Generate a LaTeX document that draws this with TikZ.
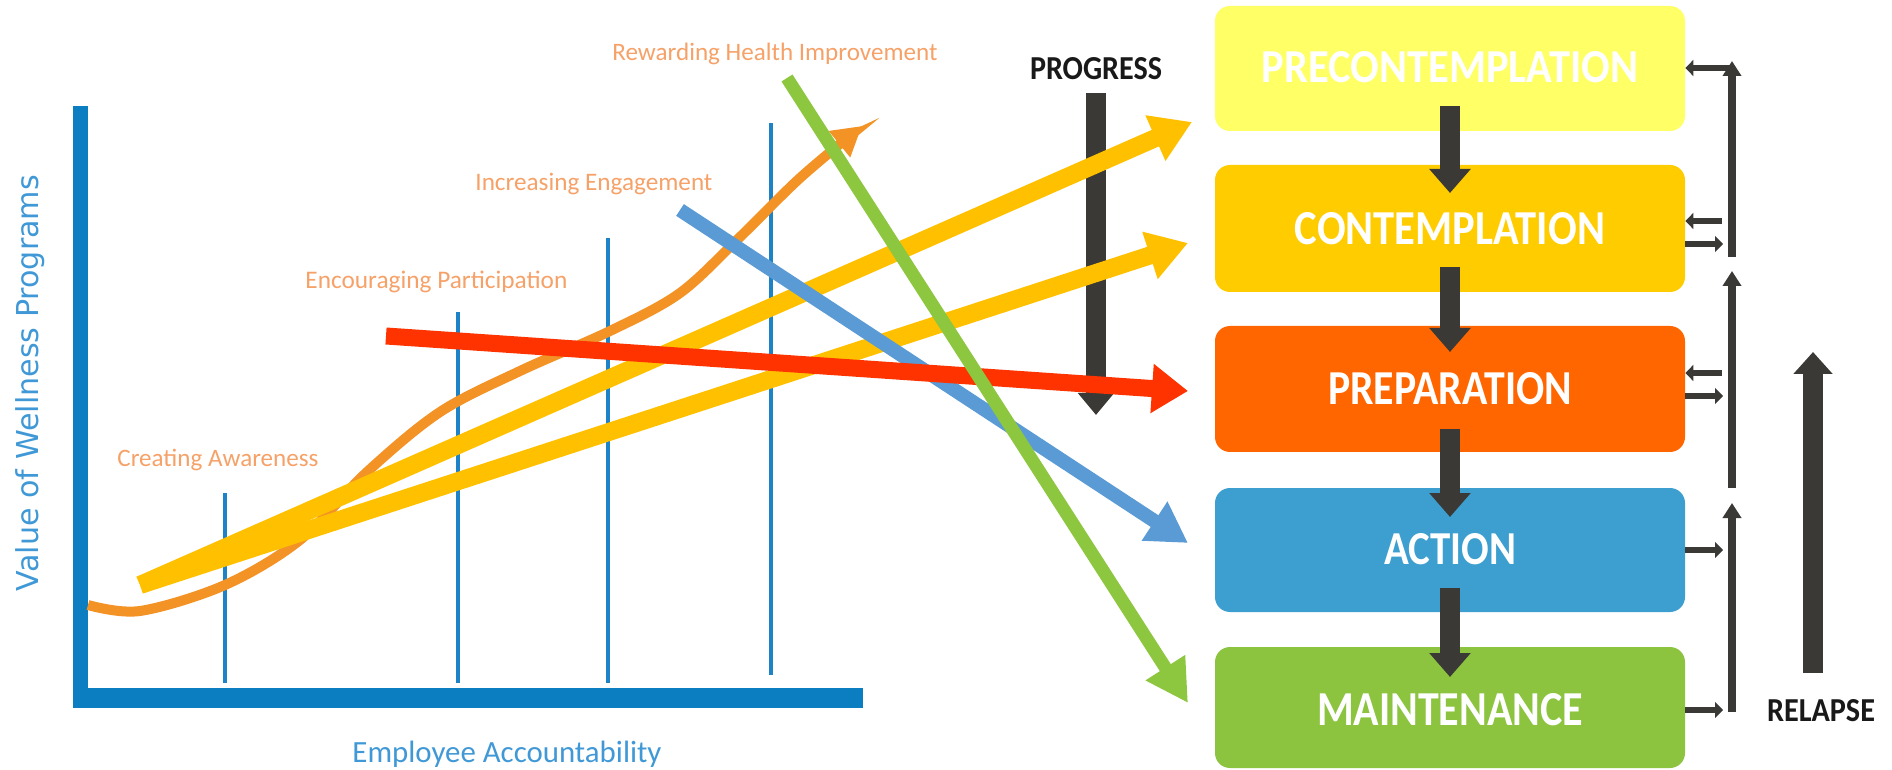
\documentclass[tikz,border=0pt]{standalone}
\usepackage{fontspec}
\setmainfont{Carlito}
\newfontfamily\dejavu{DejaVu Sans}
\usetikzlibrary{arrows.meta}
\definecolor{axisblue}{HTML}{0B7EC1}
\definecolor{tickblue}{HTML}{1D83C6}
\definecolor{lblorange}{HTML}{F6A168}
\definecolor{axlbl}{HTML}{4099D6}
\definecolor{curveorange}{HTML}{F39325}
\definecolor{lineyellow}{HTML}{FFC000}
\definecolor{linered}{HTML}{FF3300}
\definecolor{lineblue}{HTML}{5B9BD5}
\definecolor{linegreen}{HTML}{8DC63F}
\definecolor{darkgrey}{HTML}{3B3936}
\definecolor{cpre}{HTML}{FFFF66}
\definecolor{ccon}{HTML}{FFCC00}
\definecolor{cprep}{HTML}{FF6600}
\definecolor{cact}{HTML}{3C9FD0}
\definecolor{cmain}{HTML}{8CC43F}
\begin{document}
\begin{tikzpicture}[x=0.5pt,y=-0.5pt,
  stagebox/.style={rounded corners=7.5pt, minimum width=235pt, inner sep=0pt, text=white, font=\bfseries},
  lbl/.style={inner sep=0pt, text=lblorange, anchor=west},
  darrow/.style={darkgrey, line width=10pt, -{Triangle[length=12pt,width=20pt]}},
  bigarrow/.style={darkgrey, line width=10pt, -{Triangle[length=11pt,width=18.5pt]}},
  thinv/.style={darkgrey, line width=4pt, -{Triangle[length=7.5pt,width=9pt]}},
  thinh/.style={darkgrey, line width=3pt, -{Triangle[length=4pt,width=8pt]}},
  tick/.style={tickblue, line width=2pt},
  bandtxt/.style={inner sep=0pt, text=black!90, font=\bfseries}
]
\useasboundingbox (0,0) rectangle (1892,770);

% stage boxes
\node[stagebox, fill=cpre,  minimum height=62.5pt] (pre)  at (1450,68.5) {};
\node[stagebox, fill=ccon,  minimum height=63.5pt] (con)  at (1450,228.5) {};
\node[stagebox, fill=cprep, minimum height=63pt]   (prep) at (1450,389) {};
\node[stagebox, fill=cact,  minimum height=62pt]   (act)  at (1450,550) {};
\node[stagebox, fill=cmain, minimum height=60.5pt] (main) at (1450,707.5) {};

\node[inner sep=0pt, text=white] (tpre)  at (1450,67)  {\resizebox{188pt}{15.5pt}{\bfseries PRECONTEMPLATION}};
\node[inner sep=0pt, text=white] (tcon)  at (1450,229) {\resizebox{155pt}{16pt}{\bfseries CONTEMPLATION}};
\node[inner sep=0pt, text=white] (tprep) at (1450,389) {\resizebox{122pt}{16pt}{\bfseries PREPARATION}};
\node[inner sep=0pt, text=white] (tact)  at (1450,549) {\resizebox{66pt}{15.5pt}{\bfseries ACTION}};
\node[inner sep=0pt, text=white] (tmain) at (1450,710) {\resizebox{133pt}{16pt}{\bfseries MAINTENANCE}};

% chart axes
\fill[axisblue] (73,106) rectangle (88,708);
\fill[axisblue] (73,688) rectangle (863,708);
\coordinate (t1a) at (225,493); \coordinate (t1b) at (225,683);
\coordinate (t2a) at (458,312); \coordinate (t2b) at (458,683);
\coordinate (t3a) at (608,238); \coordinate (t3b) at (608,683);
\coordinate (t4a) at (771,123); \coordinate (t4b) at (771,675);
\draw[tick] (t1a) -- (t1b);
\draw[tick] (t2a) -- (t2b);
\draw[tick] (t3a) -- (t3b);
\draw[tick] (t4a) -- (t4b);

% orange curve
\draw[curveorange, line width=5pt, -{Triangle[length=14.5pt,width=16pt]}]
  plot[smooth, tension=0.55] coordinates {(88,605) (140,611) (225,585) (300,540) (367,472) (440,412) (520,371) (610,331) (680,293) (740,237) (800,178) (862,126)};

% progress arrow
\coordinate (pgtop) at (1096,93);
\coordinate (pgbot) at (1096,415);
\draw[bigarrow, -{Triangle[length=11pt,width=17.5pt]}] (pgtop) -- (pgbot);

% coloured stage arrows
\coordinate (ystart) at (140,585);
\coordinate (y1end) at (1192,122);
\coordinate (y2end) at (1188,243);
\draw[lineyellow, line width=9pt, -{Triangle[length=20pt,width=23.5pt]}] (ystart) -- (y1end);
\draw[lineyellow, line width=9pt, -{Triangle[length=20pt,width=23.5pt]}] (ystart) -- (y2end);
\coordinate (bstart) at (680,210);
\coordinate (bend) at (1188,543);
\draw[lineblue, line width=7pt, -{Triangle[length=20pt,width=22pt]}] (bstart) -- (bend);
\coordinate (rstart) at (386,336);
\coordinate (rend) at (1188,391);
\draw[linered, line width=8.5pt, -{Triangle[length=18pt,width=23.5pt]}] (rstart) -- (rend);
\coordinate (gstart) at (787,78);
\coordinate (gend) at (1188,703);
\draw[linegreen, line width=6.5pt, -{Triangle[length=21pt,width=22pt]}] (gstart) -- (gend);

% down arrows between stages
\coordinate (d1a) at (1450,106); \coordinate (d1b) at (1450,193);
\coordinate (d2a) at (1450,267); \coordinate (d2b) at (1450,352);
\coordinate (d3a) at (1450,429); \coordinate (d3b) at (1450,517);
\coordinate (d4a) at (1450,588); \coordinate (d4b) at (1450,677);
\draw[darrow] (d1a) -- (d1b);
\draw[darrow] (d2a) -- (d2b);
\draw[darrow] (d3a) -- (d3b);
\draw[darrow] (d4a) -- (d4b);

% relapse structure
\coordinate (v1b) at (1732,257); \coordinate (v1t) at (1732,61);
\coordinate (v2b) at (1732,488); \coordinate (v2t) at (1732,271);
\coordinate (v3b) at (1732,712); \coordinate (v3t) at (1732,503);
\draw[thinv] (v1b) -- (v1t);
\draw[thinv] (v2b) -- (v2t);
\draw[thinv] (v3b) -- (v3t);
\coordinate (h1) at (1732,68);
\draw[thinh] (h1) -- (pre.east |- h1);
\coordinate (h2) at (1722,221);
\draw[thinh] (h2) -- (con.east |- h2);
\coordinate (h3) at (1723,244);
\draw[thinh] (con.east |- h3) -- (h3);
\coordinate (h4) at (1722,373);
\draw[thinh] (h4) -- (prep.east |- h4);
\coordinate (h5) at (1723,396);
\draw[thinh] (prep.east |- h5) -- (h5);
\coordinate (h6) at (1723,550);
\draw[thinh] (act.east |- h6) -- (h6);
\coordinate (h7) at (1723,710);
\draw[thinh] (main.east |- h7) -- (h7);
\coordinate (rlb) at (1813,673);
\coordinate (rlt) at (1813,352);
\draw[bigarrow, -{Triangle[length=11pt,width=19pt]}] (rlb) -- (rlt);

% texts
\node[bandtxt] (progress) at (1096,69) {\resizebox{66pt}{11pt}{\bfseries PROGRESS}};
\node[bandtxt] (relapse) at (1821,711) {\resizebox{54pt}{11pt}{\bfseries RELAPSE}};

\node[lbl] (lca) at (117,460) {\resizebox{100.5pt}{!}{Creating Awareness}};
\node[lbl] (lep) at (305,282) {\resizebox{131pt}{!}{Encouraging Participation}};
\node[lbl] (lie) at (475,184) {\resizebox{118.5pt}{!}{Increasing Engagement}};
\node[lbl] (lrh) at (612,54) {\resizebox{162.5pt}{!}{Rewarding Health Improvement}};

\node[inner sep=0pt, text=axlbl] (xlab) at (507,754) {\resizebox{154.5pt}{!}{Employee Accountability}};
\node[inner sep=0pt, text=axlbl, rotate=90] (ylab) at (30,383) {\resizebox{208pt}{!}{\dejavu Value of Wellness Programs}};
\end{tikzpicture}
\end{document}
